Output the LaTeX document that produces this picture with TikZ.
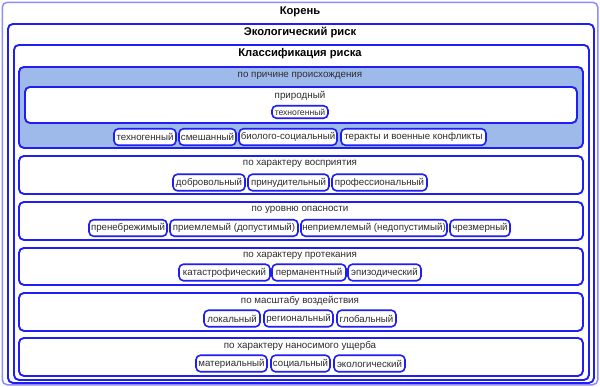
\documentclass[tikz,border=0pt]{standalone}
\usepackage{fontspec}
\setmainfont{Liberation Sans}
\definecolor{bblue}{RGB}{30,30,245}
\definecolor{lav}{RGB}{140,140,255}
\definecolor{secfill}{RGB}{158,186,234}
\definecolor{txt}{RGB}{45,45,45}
\tikzset{
  frame/.style={draw=bblue, line width=1.9pt, rounded corners=5pt, anchor=north west, inner sep=0pt, fill=white},
  outerframe/.style={draw=lav, line width=1.5pt, rounded corners=5pt, anchor=north west, inner sep=0pt, fill=white},
  btn/.style={draw=bblue, line width=1.6pt, rounded corners=4.5pt, fill=white, inner xsep=1pt, inner ysep=0pt, minimum height=16.5pt, font=\fontsize{9.7}{11}\selectfont, text=txt},
  sbtn/.style={btn, minimum height=12.5pt, font=\fontsize{8.6}{9}\selectfont},
  ttl/.style={font=\bfseries\fontsize{11.2}{13}\selectfont, inner sep=0pt},
  sec/.style={font=\fontsize{9.8}{11}\selectfont, text=txt, inner sep=0pt},
}
\begin{document}
\begin{tikzpicture}[x=1pt,y=-1pt]
\useasboundingbox (0,0) rectangle (600,386);
% frames
\node[outerframe, minimum width=595.5pt, minimum height=382.5pt] (root) at (1.5,1.5) {};
\node[frame, minimum width=586pt, minimum height=359pt] (eco) at (7,23) {};
\node[frame, minimum width=575pt, minimum height=335pt] (cls) at (13,44) {};
% titles
\node[ttl] (troot) at (300,11.5) {Корень};
\node[ttl] (teco) at (300,32.5) {Экологический риск};
\node[ttl] (tcls) at (300,54) {Классификация риска};
% section 1
\node[frame, fill=secfill, minimum width=564pt, minimum height=81pt] (s1) at (18,66) {};
\node[sec] (s1t) at (300,75.5) {по причине происхождения};
\node[frame, minimum width=552pt, minimum height=36pt] (nat) at (24,86) {};
\node[sec] (natt) at (300,96) {природный};
\node[sbtn, minimum width=56pt] (b00) at (300,112) {техногенный};
\node[btn, minimum width=62pt] (b11) at (145,137) {техногенный};
\node[btn, minimum width=57pt] (b12) at (207.5,137) {смешанный};
\node[btn, minimum width=98pt] (b13) at (288,137) {биолого-социальный};
\node[btn, minimum width=145pt] (b14) at (413.5,137) {теракты и военные конфликты};
% section 2
\node[frame, minimum width=564pt, minimum height=38pt] (s2) at (18,155) {};
\node[sec] (s2t) at (300,164) {по характеру восприятия};
\node[btn, minimum width=72pt] (b21) at (209,182.5) {добровольный};
\node[btn, minimum width=81pt] (b22) at (288.5,182.5) {принудительный};
\node[btn, minimum width=95pt] (b23) at (379.5,182.5) {профессиональный};
% section 3
\node[frame, minimum width=564pt, minimum height=38pt] (s3) at (18,201) {};
\node[sec] (s3t) at (300,210) {по уровню опасности};
\node[btn, minimum width=78pt] (b31) at (128,228) {пренебрежимый};
\node[btn, minimum width=128pt] (b32) at (234,228) {приемлемый (допустимый)};
\node[btn, minimum width=146pt] (b33) at (374,228) {неприемлемый (недопустимый)};
\node[btn, minimum width=60pt] (b34) at (480,228) {чрезмерный};
% section 4
\node[frame, minimum width=564pt, minimum height=37pt] (s4) at (18,247) {};
\node[sec] (s4t) at (300,255.5) {по характеру протекания};
\node[btn, minimum width=91pt] (b41) at (224.5,272.5) {катастрофический};
\node[btn, minimum width=74pt] (b42) at (309,272.5) {перманентный};
\node[btn, minimum width=73pt] (b43) at (384.5,272.5) {эпизодический};
% section 5
\node[frame, minimum width=564pt, minimum height=38pt] (s5) at (18,292) {};
\node[sec] (s5t) at (300,300.5) {по масштабу воздействия};
\node[btn, minimum width=56pt] (b51) at (232,318.5) {локальный};
\node[btn, minimum width=69pt] (b52) at (298.5,318.5) {региональный};
\node[btn, minimum width=59pt] (b53) at (366.5,318.5) {глобальный};
% section 6
\node[frame, minimum width=564pt, minimum height=38pt] (s6) at (18,337) {};
\node[sec] (s6t) at (300,346) {по характеру наносимого ущерба};
\node[btn, minimum width=71pt] (b61) at (231.5,363.5) {материальный};
\node[btn, minimum width=59pt] (b62) at (300.5,363.5) {социальный};
\node[btn, minimum width=71pt] (b63) at (369.5,363.5) {экологический};
\end{tikzpicture}
\end{document}
